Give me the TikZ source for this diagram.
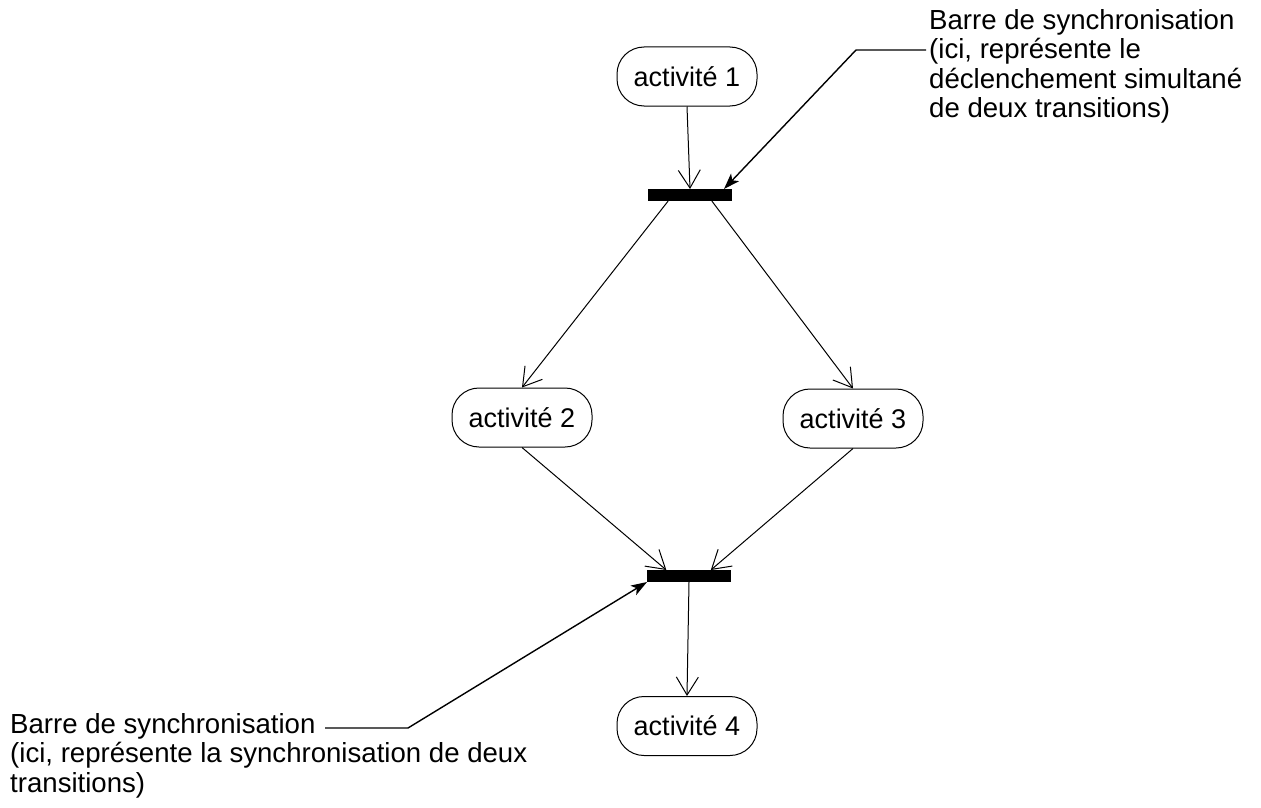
\documentclass[tikz,border=0pt]{standalone}
\usepackage{fontspec}
\setmainfont{Liberation Sans}
\usetikzlibrary{arrows.meta,calc}
\begin{document}
\begin{tikzpicture}[x=1pt,y=-1pt,
  act/.style={draw, line width=1pt, rounded corners=27pt, minimum width=140pt, minimum height=59pt, inner sep=0pt, font=\fontsize{27}{31}\selectfont},
  syncbar/.style={fill=black, draw=none, minimum width=84pt, minimum height=12pt, inner sep=0pt, outer sep=0pt},
  flow/.style={line width=1pt, -{Straight Barb[length=18pt,width=22pt,line width=1pt]}},
  note/.style={line width=1.4pt, -{Stealth[length=16pt,width=11pt,inset=4pt]}},
  notetext/.style={align=left, inner sep=0pt, anchor=north west, font=\fontsize{27.6}{29.5}\selectfont}
]
\useasboundingbox (0,0) rectangle (1261,808);

\node[act] (a1) at (687,76.5) {activité 1};
\node[syncbar] (b1) at (690,195) {};
\node[act] (a2) at (522,417.5) {activité 2};
\node[act] (a3) at (853,418.5) {activité 3};
\node[syncbar] (b2) at (689,576) {};
\node[act] (a4) at (687,726) {activité 4};

\draw[flow] (a1.south) -- (b1.north);
\draw[flow] ($(b1.south west)!0.24!(b1.south east)$) -- (a2.north);
\draw[flow] ($(b1.south west)!0.76!(b1.south east)$) -- (a3.north);
\draw[flow] (a2.south) -- ($(b2.north west)!0.23!(b2.north east)$);
\draw[flow] (a3.south) -- ($(b2.north west)!0.76!(b2.north east)$);
\draw[flow] (b2.south) -- (a4.north);

\node[notetext] (t1) at (929,9) {Barre de synchronisation\\(ici, représente le\\déclenchement simultané\\de deux transitions)};
\node[notetext] (t2) at (10,713) {Barre de synchronisation\\(ici, représente la synchronisation de deux\\transitions)};

\coordinate (l1e) at (926,50);
\coordinate (l1c) at (856,50);
\draw[note] (l1e) -- (l1c) -- ($(b1.north east)+(-8,0)$);
\coordinate (l2e) at (325,728);
\coordinate (l2c) at (408,728);
\draw[note] (l2e) -- (l2c) -- (b2.south west);
\end{tikzpicture}
\end{document}
